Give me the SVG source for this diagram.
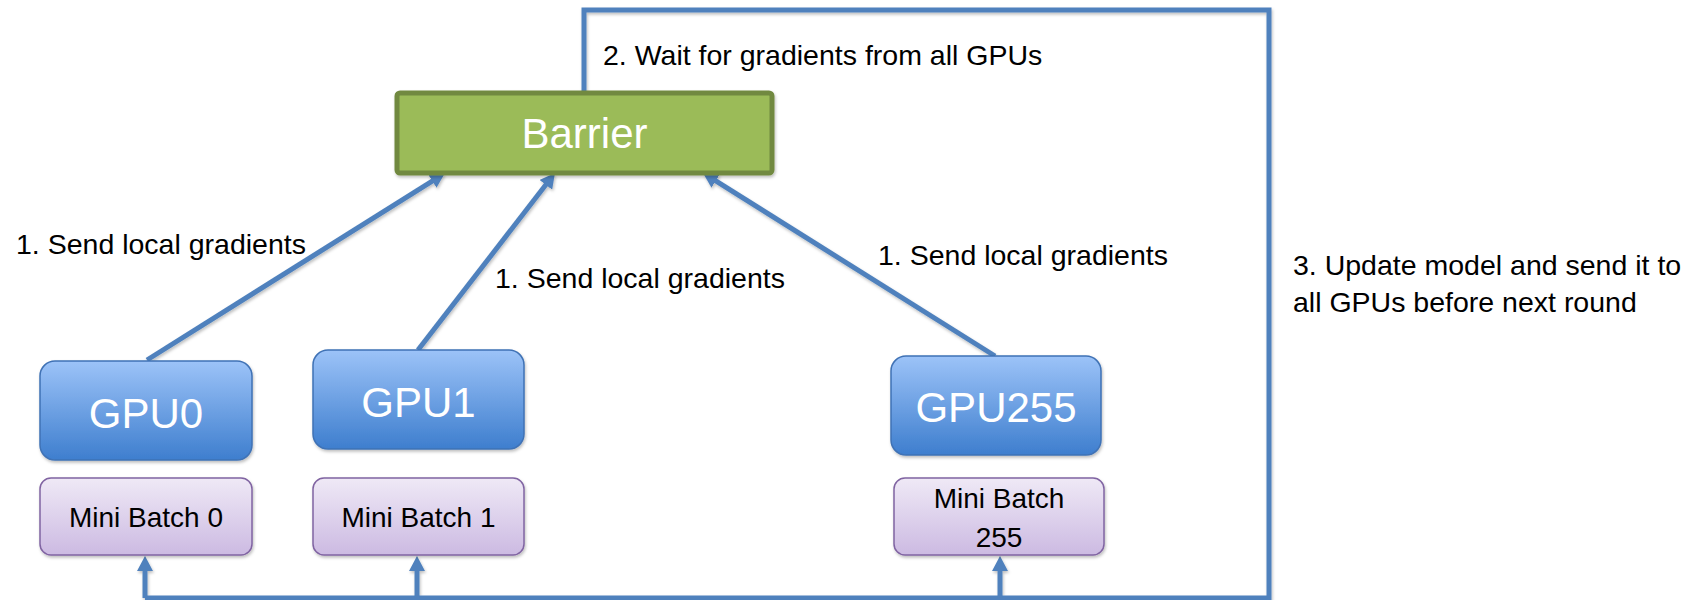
<svg xmlns="http://www.w3.org/2000/svg" width="1708" height="600" viewBox="0 0 1708 600">
  <defs>
    <style>
      .lbl { font-family: "Liberation Sans", Arial, sans-serif; font-size: 28.5px; fill: #000; }
      .gpu-box { fill: url(#gpuGrad); stroke: #3F72B5; stroke-width: 1.5; filter: url(#shadow); }
      .gpu-txt { font-family: "Liberation Sans", Arial, sans-serif; font-size: 42px; fill: #fff; text-anchor: middle; }
      .mb-box { fill: url(#mbGrad); stroke: #8064A2; stroke-width: 1.5; filter: url(#shadow); }
      .mb-txt { font-family: "Liberation Sans", Arial, sans-serif; font-size: 28px; fill: #000; text-anchor: middle; }
      .bar-box { fill: #9BBB59; stroke: #71893F; stroke-width: 5; filter: url(#shadow); }
      .bar-txt { font-family: "Liberation Sans", Arial, sans-serif; font-size: 42px; fill: #fff; text-anchor: middle; }
      .conn { fill: none; stroke: #4F81BD; stroke-width: 5; }
    </style>
    <linearGradient id="gpuGrad" x1="0" y1="0" x2="0" y2="1">
      <stop offset="0" stop-color="#9CC3F8"/>
      <stop offset="1" stop-color="#3E7ECE"/>
    </linearGradient>
    <linearGradient id="mbGrad" x1="0" y1="0" x2="0" y2="1">
      <stop offset="0" stop-color="#EFE9F6"/>
      <stop offset="1" stop-color="#CCBAE2"/>
    </linearGradient>
    <filter id="shadow" x="-10%" y="-10%" width="120%" height="130%">
      <feDropShadow dx="1" dy="2" stdDeviation="1.5" flood-color="#000" flood-opacity="0.25"/>
    </filter>
    <filter id="lshadow" filterUnits="userSpaceOnUse" x="0" y="0" width="1708" height="600">
      <feDropShadow dx="1" dy="2" stdDeviation="1.5" flood-color="#000" flood-opacity="0.25"/>
    </filter>
    <marker id="arrow" markerUnits="userSpaceOnUse" markerWidth="16" markerHeight="16" viewBox="0 0 16 16" refX="7" refY="8" orient="auto">
      <path d="M0,0 L15,8 L0,16 z" fill="#4F81BD"/>
    </marker>
  </defs>
  <rect width="1708" height="600" fill="#fff"/>

  <g id="connectors" filter="url(#lshadow)">
    <path class="conn" d="M584,93 V10 H1269 V598 H145"/>
    <line class="conn" x1="147" y1="360" x2="438.2" y2="177.3" marker-end="url(#arrow)"/>
    <line class="conn" x1="418" y1="350" x2="550.1" y2="179.3" marker-end="url(#arrow)"/>
    <line class="conn" x1="995" y1="356" x2="709.8" y2="177.2" marker-end="url(#arrow)"/>
    <line class="conn" x1="145" y1="598" x2="145" y2="564" marker-end="url(#arrow)"/>
    <line class="conn" x1="417" y1="598" x2="417" y2="564" marker-end="url(#arrow)"/>
    <line class="conn" x1="1000" y1="598" x2="1000" y2="564" marker-end="url(#arrow)"/>
  </g>

  <g id="barrier">
    <rect class="bar-box" x="397" y="93" width="375" height="80" rx="3"/>
    <text class="bar-txt" x="584.5" y="148">Barrier</text>
  </g>

  <g id="gpu0">
    <rect class="gpu-box" x="40" y="361" width="212" height="99" rx="15"/>
    <text class="gpu-txt" x="146" y="428">GPU0</text>
  </g>
  <g id="gpu1">
    <rect class="gpu-box" x="313" y="350" width="211" height="99" rx="15"/>
    <text class="gpu-txt" x="418.5" y="417">GPU1</text>
  </g>
  <g id="gpu255">
    <rect class="gpu-box" x="891" y="356" width="210" height="99" rx="15"/>
    <text class="gpu-txt" x="996" y="422">GPU255</text>
  </g>

  <g id="mb0">
    <rect class="mb-box" x="40" y="478" width="212" height="77" rx="11"/>
    <text class="mb-txt" x="146" y="527">Mini Batch 0</text>
  </g>
  <g id="mb1">
    <rect class="mb-box" x="313" y="478" width="211" height="77" rx="11"/>
    <text class="mb-txt" x="418.5" y="527">Mini Batch 1</text>
  </g>
  <g id="mb255">
    <rect class="mb-box" x="894" y="478" width="210" height="77" rx="11"/>
    <text class="mb-txt" x="999" y="508">Mini Batch</text>
    <text class="mb-txt" x="999" y="547">255</text>
  </g>

  <g id="labels">
    <text class="lbl" x="603" y="65">2. Wait for gradients from all GPUs</text>
    <text class="lbl" x="16" y="254">1. Send local gradients</text>
    <text class="lbl" x="495" y="288">1. Send local gradients</text>
    <text class="lbl" x="878" y="265">1. Send local gradients</text>
    <text class="lbl" x="1293" y="275">3. Update model and send it to</text>
    <text class="lbl" x="1293" y="312">all GPUs before next round</text>
  </g>
</svg>
